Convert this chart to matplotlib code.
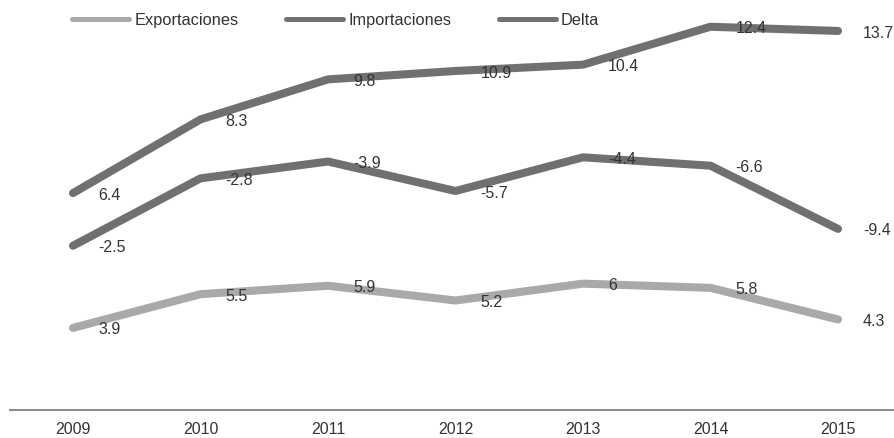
import numpy as np
from matplotlib import pyplot as plt

plt.rcParams['font.family'] = ['Liberation Sans', 'DejaVu Sans']

# Data
years = ["2009", "2010", "2011", "2012", "2013", "2014", "2015"]
exportaciones = [3.9, 5.5, 5.9, 5.2, 6, 5.8, 4.3]
importaciones = [6.4, 8.3, 9.8, 10.9, 10.4, 12.4, 13.7]
delta = [-2.5, -2.8, -3.9, -5.7, -4.4, -6.6, -9.4]

series_names = ["Exportaciones", "Importaciones", "Delta"]
series_colors = ["#a9a9a9", "#707070", "#707070"]

# Stacked line chart: each series drawn on top of the previous one
stacked = np.cumsum(np.array([exportaciones, importaciones, delta]), axis=0)
x = np.arange(len(years))

fig = plt.figure(figsize=(8.94, 4.38), dpi=100)
ax = fig.add_axes([10 / 894, 1 - 410 / 438, 884 / 894, 410 / 438])

text_color = "#333333"
fs = 11.5

for name, raw, level, color in zip(series_names, [exportaciones, importaciones, delta], stacked, series_colors):
    ax.plot(x, level, color=color, linewidth=5.8, solid_capstyle="round",
            solid_joinstyle="round", label=name, zorder=2)
    for xi, yi, v in zip(x, level, raw):
        ax.annotate(f"{v:g}", (xi, yi), xytext=(18, -1.5), textcoords="offset points",
                    ha="left", va="center", fontsize=fs, color=text_color, zorder=3)

ax.set_xlim(-0.494, 6.439)
ax.set_ylim(0, 19.47)
ax.set_xticks(x)
ax.set_xticklabels(years, fontsize=fs, color=text_color)
ax.tick_params(axis="x", length=0, pad=9)
ax.set_yticks([])
for side in ["top", "left", "right"]:
    ax.spines[side].set_visible(False)
ax.spines["bottom"].set_color("#8c8c8c")
ax.spines["bottom"].set_linewidth(1.5)

leg = ax.legend(loc="center left", bbox_to_anchor=(72 / 894, 1 - 20.7 / 438),
                bbox_transform=fig.transFigure, ncol=3, frameon=False,
                fontsize=11.8, handlelength=3.5, handletextpad=0.3,
                columnspacing=2.9, borderpad=0, borderaxespad=0)
for line in leg.get_lines():
    line.set_linewidth(3.6)
    line.set_solid_capstyle("round")
for t in leg.get_texts():
    t.set_color(text_color)

plt.savefig("out.png", dpi=100)
